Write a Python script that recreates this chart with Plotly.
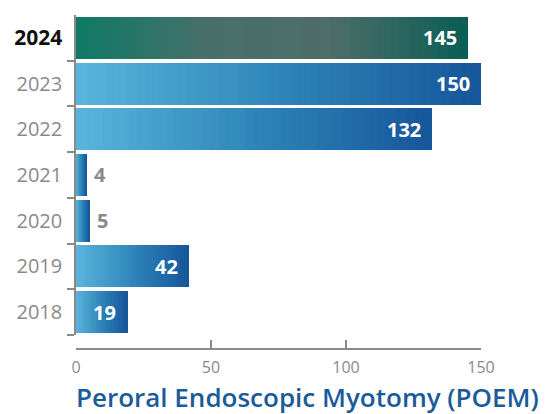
import plotly.graph_objects as go

# ---- data ----
years = ["2018", "2019", "2020", "2021", "2022", "2023", "2024"]
cases = [19, 42, 5, 4, 132, 150, 145]
x_ticks = [0, 50, 100, 150]
title_text = "Peroral Endoscopic Myotomy (POEM)"

# ---- styling ----
blue_stops = [(0.0, (90, 181, 220)), (0.5, (47, 133, 185)), (1.0, (21, 86, 154))]
green_stops = [(0.0, (15, 122, 101)), (0.35, (74, 111, 107)), (0.65, (79, 109, 105)), (1.0, (8, 94, 85))]
highlight_year = "2024"
N = 40
FONT = "Open Sans"


def interp(stops, t):
    for (t0, c0), (t1, c1) in zip(stops[:-1], stops[1:]):
        if t <= t1:
            f = 0 if t1 == t0 else (t - t0) / (t1 - t0)
            return "rgb(%d,%d,%d)" % tuple(round(a + (b - a) * f) for a, b in zip(c0, c1))
    return "rgb(%d,%d,%d)" % stops[-1][1]


ypos = list(range(len(years)))

fig = go.Figure()
# gradient bars: each bar is stacked from N equal segments with interpolated colours
for k in range(N):
    t = (k + 0.5) / N
    colors = [interp(green_stops if y == highlight_year else blue_stops, t) for y in years]
    fig.add_trace(go.Bar(
        y=ypos, x=[v / N for v in cases], orientation="h",
        marker=dict(color=colors, line=dict(width=0)),
        hoverinfo="skip", showlegend=False,
    ))

# value labels
for i, v in zip(ypos, cases):
    inside = v >= 15
    fig.add_annotation(
        x=v, y=i, xref="x", yref="y",
        text="<b>%d</b>" % v, showarrow=False,
        xanchor="right" if inside else "left",
        xshift=-9 if inside else 5,
        font=dict(family=FONT, size=20, color="white" if inside else "#8a8a8a", weight=800),
    )

ticktext = [
    "<b><span style='color:#111111;font-size:21px'>%s</span></b>" % y if y == highlight_year else y
    for y in years
]

fig.add_annotation(
    x=0.5716, y=-0.1437, xref="paper", yref="paper",
    text=title_text, showarrow=False,
    xanchor="center", yanchor="middle",
    font=dict(family=FONT, size=26, color="#1a5c99", weight=600),
)

fig.update_layout(
    width=539, height=406,
    barmode="stack", bargap=0.08,
    paper_bgcolor="white", plot_bgcolor="white",
    margin=dict(l=68, r=66, t=7, b=65, autoexpand=False),
    font=dict(family=FONT, color="#8a8a8a"),
    xaxis=dict(
        range=[0, 150], autorange=False, tickvals=x_ticks, showgrid=False, zeroline=False,
        showline=True, linecolor="#8a8a8a", linewidth=1.5,
        ticks="inside", ticklen=8, tickcolor="#8a8a8a", tickwidth=1.5,
        tickfont=dict(size=16, color="#8a8a8a"),
        ticklabelstandoff=4,
        anchor="free", position=0, automargin=False,
    ),
    yaxis=dict(
        range=[-0.5, 6.5], autorange=False,
        tickmode="array", tickvals=ypos, ticktext=ticktext,
        domain=[0.042, 1], showgrid=False, zeroline=False,
        showline=True, linecolor="#8a8a8a", linewidth=1.5,
        ticks="", automargin=False,
        ticklabelstandoff=8,
        minor=dict(tickmode="array", tickvals=[i + 0.5 for i in ypos[:-1]] + [-0.5],
                   ticks="outside", ticklen=7, tickcolor="#8a8a8a", tickwidth=1.5),
        tickfont=dict(size=20, color="#8a8a8a"),
    ),
)

fig.write_html("out.html")
